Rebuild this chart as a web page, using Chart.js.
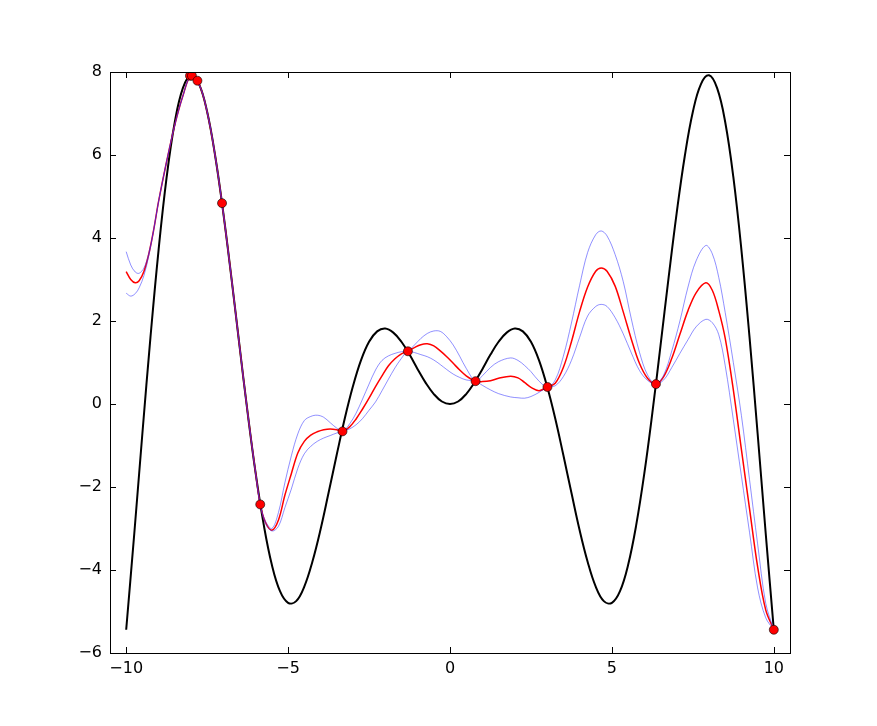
<!DOCTYPE html>
<html>
<head>
<meta charset="utf-8">
<script src="https://cdn.jsdelivr.net/npm/chart.js@4.4.0/dist/chart.umd.min.js"></script>
<style>
  html, body { margin: 0; padding: 0; background: #fff; }
  #wrap { width: 877px; height: 726px; }
</style>
</head>
<body>
<div id="wrap"><canvas id="gpChart" width="877" height="726"></canvas></div>
<script>
// true function (black)
var fX = [-10, -9.75, -9.5, -9.25, -9, -8.75, -8.5, -8.25, -8, -7.75, -7.5, -7.25, -7, -6.75, -6.5, -6.25,
          -6, -5.75, -5.5, -5.25, -5, -4.75, -4.5, -4.25, -4, -3.75, -3.5, -3.25, -3, -2.75, -2.5, -2.25,
          -2, -1.75, -1.5, -1.25, -1, -0.75, -0.5, -0.25, 0, 0.25, 0.5, 0.75, 1, 1.25, 1.5, 1.75,
          2, 2.25, 2.5, 2.75, 3, 3.25, 3.5, 3.75, 4, 4.25, 4.5, 4.75, 5, 5.25, 5.5, 5.75,
          6, 6.25, 6.5, 6.75, 7, 7.25, 7.5, 7.75, 8, 8.25, 8.5, 8.75, 9, 9.25, 9.5, 9.75, 10];
var fY = [-5.44, -3.12, -0.71, 1.61, 3.71, 5.47, 6.79, 7.61, 7.92, 7.71, 7.04, 5.97, 4.60, 3.04, 1.40, -0.21,
          -1.68, -2.92, -3.88, -4.51, -4.79, -4.75, -4.40, -3.80, -3.03, -2.14, -1.23, -0.35, 0.42, 1.05, 1.50, 1.75,
          1.82, 1.72, 1.50, 1.19, 0.84, 0.51, 0.24, 0.06, 0, 0.06, 0.24, 0.51, 0.84, 1.19, 1.50, 1.72,
          1.82, 1.75, 1.50, 1.05, 0.42, -0.35, -1.23, -2.14, -3.03, -3.80, -4.40, -4.75, -4.79, -4.51, -3.88, -2.92,
          -1.68, -0.21, 1.40, 3.04, 4.60, 5.97, 7.04, 7.71, 7.92, 7.61, 6.79, 5.47, 3.71, 1.61, -0.71, -3.12, -5.44];

// observations (red dots)
var obsX = [-8.03, -7.97, -7.80, -7.04, -5.86, -3.32, -1.30, 0.79, 3.01, 6.36, 10.0];
var obsY = [7.91, 7.91, 7.79, 4.84, -2.42, -0.66, 1.27, 0.55, 0.41, 0.48, -5.44];

// prediction (red) and bounds (blue)
var gpX = [-10, -9.86, -9.72, -9.6, -9.45, -9.3, -9.15, -9.0, -8.75, -8.5, -8.25, -8.0, -7.75, -7.5, -7.25, -7.0,
           -6.75, -6.5, -6.25, -6.0, -5.86, -5.7, -5.5, -5.3, -5.1, -4.9, -4.7, -4.5, -4.3, -4.1, -3.9, -3.7,
           -3.5, -3.32, -3.1, -2.9, -2.7, -2.5, -2.3, -2.1, -1.9, -1.7, -1.5, -1.31, -1.1, -0.9, -0.7, -0.5,
           -0.3, -0.1, 0.1, 0.3, 0.5, 0.79, 1.0, 1.25, 1.5, 1.87, 2.1, 2.3, 2.5, 2.75, 3.01, 3.25,
           3.5, 3.75, 4.0, 4.25, 4.5, 4.67, 4.85, 5.1, 5.35, 5.6, 5.85, 6.1, 6.36, 6.6, 6.85, 7.1,
           7.35, 7.6, 7.9, 8.1, 8.3, 8.5, 8.75, 9.0, 9.25, 9.5, 9.75, 10];
var gpMean = [3.19, 3.00, 2.92, 2.97, 3.20, 3.62, 4.20, 4.88, 5.85, 6.72, 7.42, 7.91, 7.71, 7.04, 5.97, 4.60,
              3.04, 1.40, -0.21, -1.68, -2.42, -2.85, -3.04, -2.80, -2.20, -1.68, -1.18, -0.90, -0.75, -0.67, -0.62, -0.60,
              -0.62, -0.66, -0.55, -0.36, -0.12, 0.14, 0.42, 0.68, 0.92, 1.09, 1.21, 1.27, 1.36, 1.43, 1.45, 1.40,
              1.28, 1.14, 0.98, 0.82, 0.68, 0.55, 0.54, 0.56, 0.62, 0.67, 0.63, 0.52, 0.40, 0.32, 0.41, 0.50,
              0.88, 1.50, 2.22, 2.82, 3.20, 3.28, 3.20, 2.84, 2.22, 1.56, 0.98, 0.62, 0.48, 0.66, 1.10, 1.68,
              2.25, 2.68, 2.92, 2.74, 2.25, 1.58, 0.34, -1.10, -2.52, -3.92, -4.96, -5.44];
var gpUpper = [3.67, 3.35, 3.18, 3.15, 3.28, 3.64, 4.20, 4.88, 5.85, 6.72, 7.42, 7.91, 7.71, 7.04, 5.97, 4.60,
               3.04, 1.40, -0.21, -1.68, -2.42, -2.82, -3.00, -2.62, -1.90, -1.25, -0.72, -0.40, -0.30, -0.27, -0.32, -0.45,
               -0.58, -0.66, -0.48, -0.22, 0.12, 0.48, 0.82, 1.05, 1.16, 1.22, 1.26, 1.27, 1.42, 1.58, 1.70, 1.76,
               1.75, 1.62, 1.42, 1.15, 0.86, 0.55, 0.68, 0.88, 1.02, 1.11, 1.05, 0.93, 0.78, 0.55, 0.41, 0.58,
               1.15, 1.95, 2.85, 3.65, 4.08, 4.17, 4.05, 3.60, 2.95, 2.05, 1.25, 0.70, 0.48, 0.70, 1.28, 2.00,
               2.82, 3.45, 3.82, 3.62, 3.05, 2.20, 1.00, -0.28, -1.82, -3.37, -4.80, -5.44];
var gpLower = [2.67, 2.60, 2.66, 2.80, 3.10, 3.58, 4.20, 4.88, 5.85, 6.72, 7.42, 7.91, 7.71, 7.04, 5.97, 4.60,
               3.04, 1.40, -0.21, -1.68, -2.42, -2.88, -3.06, -2.95, -2.50, -2.05, -1.55, -1.20, -1.02, -0.90, -0.82, -0.76,
               -0.70, -0.66, -0.60, -0.50, -0.35, -0.15, 0.05, 0.32, 0.60, 0.87, 1.10, 1.27, 1.24, 1.19, 1.14, 1.06,
               0.95, 0.83, 0.72, 0.64, 0.58, 0.55, 0.45, 0.34, 0.25, 0.17, 0.15, 0.14, 0.18, 0.28, 0.41, 0.44,
               0.66, 1.05, 1.60, 2.12, 2.35, 2.40, 2.35, 2.08, 1.69, 1.23, 0.81, 0.57, 0.48, 0.58, 0.88, 1.22,
               1.55, 1.86, 2.04, 1.96, 1.67, 0.92, -0.38, -1.74, -3.09, -4.43, -5.15, -5.44];

var xTicks = [-10, -5, 0, 5, 10];
var yTicks = [-6, -4, -2, 0, 2, 4, 6, 8];

function pairs(xs, ys) {
    return xs.map(function(x, i) { return { x: x, y: ys[i] }; });
}
function fmt(v) {
    return v < 0 ? '\u2212' + Math.abs(v) : String(v);
}

// matplotlib-style frame with inward ticks on all four sides
var frameTicks = {
    id: 'frameTicks',
    afterDraw: function(chart) {
        var ctx = chart.ctx, a = chart.chartArea;
        var xs = chart.scales.x, ys = chart.scales.y;
        var len = 6;
        ctx.save();
        ctx.strokeStyle = '#000';
        ctx.lineWidth = 1;
        ctx.beginPath();
        xTicks.forEach(function(v) {
            var p = Math.round(xs.getPixelForValue(v)) + 0.5;
            ctx.moveTo(p, a.bottom); ctx.lineTo(p, a.bottom - len);
            ctx.moveTo(p, a.top); ctx.lineTo(p, a.top + len);
        });
        yTicks.forEach(function(v) {
            var p = Math.round(ys.getPixelForValue(v)) + 0.5;
            ctx.moveTo(a.left, p); ctx.lineTo(a.left + len, p);
            ctx.moveTo(a.right, p); ctx.lineTo(a.right - len, p);
        });
        ctx.stroke();
        ctx.strokeRect(Math.round(a.left) + 0.5, Math.round(a.top) + 0.5,
                       Math.round(a.right - a.left), Math.round(a.bottom - a.top));
        ctx.restore();
    }
};

var ctx = document.getElementById('gpChart').getContext('2d');
var gpChart = new Chart(ctx, {
    type: 'scatter',
    data: {
        datasets: [{
            label: 'observations',
            data: pairs(obsX, obsY),
            showLine: false,
            pointRadius: 4.5,
            pointBackgroundColor: '#ff0000',
            pointBorderColor: '#000000',
            pointBorderWidth: 0.6,
            order: 0
        }, {
            label: 'upper',
            data: pairs(gpX, gpUpper),
            showLine: true,
            borderColor: 'rgba(40, 40, 255, 0.65)',
            borderWidth: 0.8,
            pointRadius: 0,
            tension: 0.35,
            order: 1
        }, {
            label: 'lower',
            data: pairs(gpX, gpLower),
            showLine: true,
            borderColor: 'rgba(40, 40, 255, 0.65)',
            borderWidth: 0.8,
            pointRadius: 0,
            tension: 0.35,
            order: 2
        }, {
            label: 'prediction',
            data: pairs(gpX, gpMean),
            showLine: true,
            borderColor: '#ff0000',
            borderWidth: 1.5,
            pointRadius: 0,
            tension: 0.35,
            order: 3
        }, {
            label: 'f(x)',
            data: pairs(fX, fY),
            showLine: true,
            borderColor: '#000000',
            borderWidth: 2,
            pointRadius: 0,
            tension: 0.4,
            order: 4
        }]
    },
    options: {
        responsive: false,
        animation: false,
        devicePixelRatio: 1,
        layout: {
            autoPadding: false,
            padding: { left: 0, right: 87, top: 72, bottom: 0 }
        },
        plugins: {
            legend: { display: false },
            tooltip: { enabled: false }
        },
        scales: {
            x: {
                type: 'linear',
                min: -10.5,
                max: 10.5,
                afterBuildTicks: function(scale) {
                    scale.ticks = xTicks.map(function(v) { return { value: v }; });
                },
                afterFit: function(scale) { scale.height = 73; },
                grid: { display: false, drawTicks: false },
                border: { display: false },
                ticks: {
                    padding: 6,
                    maxRotation: 0,
                    color: '#000',
                    font: { family: 'DejaVu Sans', size: 16 },
                    callback: function(v) { return fmt(v); }
                }
            },
            y: {
                type: 'linear',
                min: -6,
                max: 8,
                afterBuildTicks: function(scale) {
                    scale.ticks = yTicks.map(function(v) { return { value: v }; });
                },
                afterFit: function(scale) { scale.width = 110; },
                grid: { display: false, drawTicks: false },
                border: { display: false },
                ticks: {
                    padding: 8,
                    color: '#000',
                    font: { family: 'DejaVu Sans', size: 16 },
                    callback: function(v) { return fmt(v); }
                }
            }
        }
    },
    plugins: [frameTicks]
});
</script>
</body>
</html>
